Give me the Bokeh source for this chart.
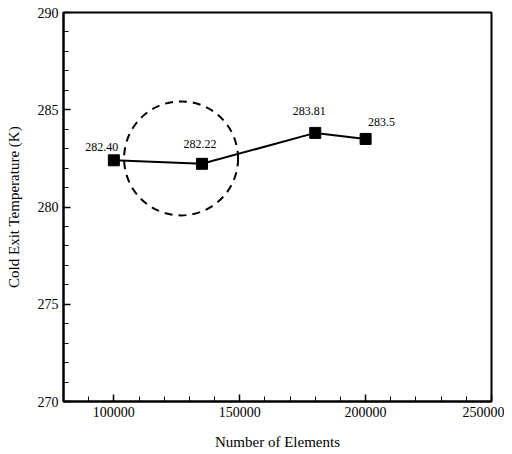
from bokeh.plotting import figure
from bokeh.models import SingleIntervalTicker, Range1d, ColumnDataSource, LabelSet, NumeralTickFormatter
from bokeh.embed import file_html
from bokeh.resources import INLINE

elements = [100000, 135000, 180000, 200000]
temperature = [282.40, 282.22, 283.81, 283.5]
labels = ["282.40", "282.22", "283.81", "283.5"]
label_dx = [-12, -2, -6, 16]
label_dy = [13, 20, 22, 17]
circle_x = [126700]
circle_y = [282.5]

FONT = "Liberation Serif"

p = figure(width=504, height=452, output_backend="svg", toolbar_location=None,
           x_range=Range1d(80000, 250000), y_range=Range1d(270, 290),
           min_border_left=63, min_border_top=12, min_border_right=13, min_border_bottom=47)
p.grid.visible = False
p.outline_line_color = "black"
p.outline_line_width = 2
p.background_fill_color = "white"
p.border_fill_color = "white"

src = ColumnDataSource(dict(x=elements, y=temperature, t=labels, dx=label_dx, dy=label_dy))
p.line("x", "y", source=src, line_color="black", line_width=2)
p.scatter("x", "y", source=src, marker="square", size=11, fill_color="black", line_color="black")
p.add_layout(LabelSet(x="x", y="y", text="t", x_offset="dx", y_offset="dy", source=src,
                      text_font=FONT, text_font_size="12px", text_align="center",
                      text_baseline="middle", text_color="black"))

p.scatter(circle_x, circle_y, marker="circle", size=114, fill_alpha=0,
          line_color="black", line_width=2, line_dash="8 6")

p.xaxis.ticker = SingleIntervalTicker(interval=50000, num_minor_ticks=5)
p.yaxis.ticker = SingleIntervalTicker(interval=5, num_minor_ticks=5)
p.xaxis.formatter = NumeralTickFormatter(format="0")
for ax in (p.xaxis[0], p.yaxis[0]):
    ax.axis_line_width = 2
    ax.axis_line_color = "black"
    ax.major_tick_in = 7
    ax.major_tick_out = 0
    ax.minor_tick_in = 5
    ax.minor_tick_out = 0
    ax.major_tick_line_width = 1.5
    ax.major_tick_line_color = "black"
    ax.minor_tick_line_color = "black"
    ax.major_label_text_font = FONT
    ax.major_label_text_font_size = "14px"
    ax.major_label_text_color = "black"
    ax.axis_label_text_font = FONT
    ax.axis_label_text_font_size = "15px"
    ax.axis_label_text_font_style = "normal"
    ax.axis_label_text_color = "black"
p.xaxis.axis_label = "Number of Elements"
p.yaxis.axis_label = "Cold Exit Temperature (K)"
p.xaxis.major_label_standoff = 5
p.xaxis.axis_label_standoff = 14
p.yaxis.major_label_standoff = 5
p.yaxis.axis_label_standoff = 13

open("out.html", "w").write(file_html(p, INLINE))
